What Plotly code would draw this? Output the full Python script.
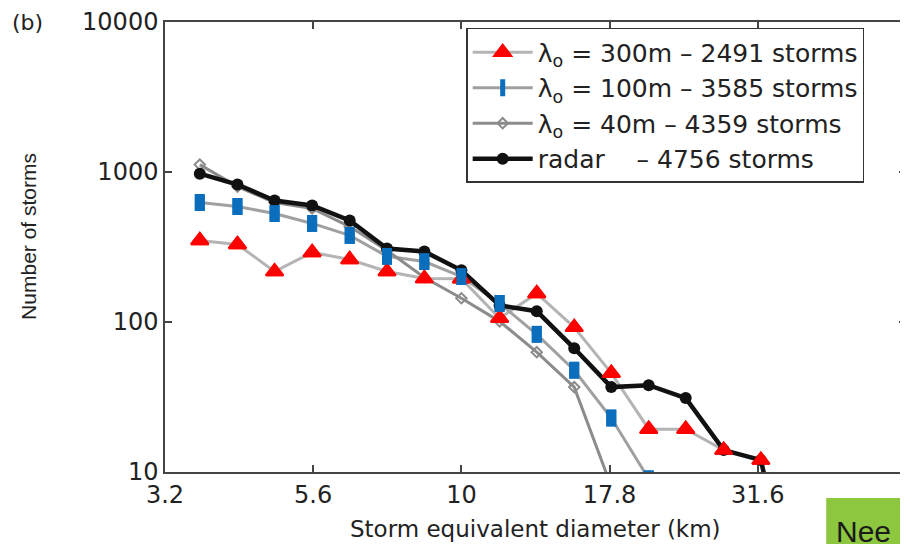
#! /usr/bin/env python3

import plotly.graph_objects as go

# storm equivalent diameter bins (km)
diam = [3.62, 4.19, 4.84, 5.60, 6.48, 7.49, 8.66, 10.0, 11.6, 13.4,
        15.5, 17.9, 20.7, 23.9, 27.7, 32.0, 37.0]

# number of storms per bin
radar = [975, 825, 645, 598, 475, 309, 295, 221, 129, 118,
         66.8, 36.8, 37.9, 31.1, 14.0, 12.0, 1]
l300 = [350, 329, 217, 291, 261, 217, 195, 194, 106, 155,
        92.2, 45.6, 19.3, 19.3, 14.0, 12.0, 1]
l100 = [626, 589, 529, 454, 378, 274, 253, 201, 133, 82.8,
        47.7, 22.9, 9]
l40 = [1120, 800, 626, 571, 433, 300, 198, 144, 101, 62.9, 36.8, 8]

names = {'l300':'λ<sub>o</sub> = 300m – 2491 storms',
         'l100':'λ<sub>o</sub> = 100m – 3585 storms',
         'l40':'λ<sub>o</sub> = 40m – 4359 storms',
         'radar':'radar\u00a0\u00a0\u00a0 – 4756 storms'}

xtickvals = [3.162, 5.623, 10, 17.78, 31.62]
xticktext = ['3.2', '5.6', '10', '17.8', '31.6']
ytickvals = [10, 100, 1000, 10000]
yticktext = ['10', '100', '1000', '10000']

RED = '#ff0000'
BLUE = '#0a6ebd'

tri = dict(symbol='triangle-up', size=15, color=RED,
           line=dict(color=RED, width=2))
bar = dict(symbol='line-ns', size=12, color=BLUE,
           line=dict(color=BLUE, width=10))
dia = dict(symbol='diamond-open', size=8, color='#8c8c8c',
           line=dict(color='#8c8c8c', width=2))
dot = dict(symbol='circle', size=12, color='#111111')

fig = go.Figure()
fig.add_trace(go.Scatter(name=names['l300'], x=diam[:len(l300)], y=l300,
                         mode='lines+markers', marker=tri,
                         line=dict(color='#b4b4b4', width=3)))
fig.add_trace(go.Scatter(name=names['l100'], x=diam[:len(l100)], y=l100,
                         mode='lines+markers', marker=bar,
                         line=dict(color='#a0a0a0', width=3)))
fig.add_trace(go.Scatter(name=names['l40'], x=diam[:len(l40)], y=l40,
                         mode='lines+markers', marker=dia,
                         line=dict(color='#8c8c8c', width=3)))
fig.add_trace(go.Scatter(name=names['radar'], x=diam[:len(radar)], y=radar,
                         mode='lines+markers', marker=dot,
                         line=dict(color='#111111', width=4.5)))
# red/blue markers sit on top of the radar line
fig.add_trace(go.Scatter(x=diam[:len(l300)], y=l300, mode='markers',
                         marker=tri, showlegend=False))
fig.add_trace(go.Scatter(x=diam[:len(l100)], y=l100, mode='markers',
                         marker=bar, showlegend=False))

axis = dict(showline=True, linecolor='#444444', linewidth=1.5,
            mirror='ticks', ticks='inside', ticklen=7, tickwidth=1.5,
            tickcolor='#444444', showgrid=False, zeroline=False,
            ticklabeloverflow='allow')
fig.update_xaxes(type='log', range=[0.5, 1.75], tickvals=xtickvals,
                 ticktext=xticktext,
                 tickfont=dict(family='DejaVu Sans', size=24, color='#222222'),
                 **axis)
fig.update_yaxes(type='log', range=[1, 4], tickvals=ytickvals,
                 ticktext=yticktext,
                 tickfont=dict(family='DejaVu Sans', size=24, color='#222222'),
                 **axis)

# positions below are given relative to the plot box (743 x 451 px)
fig.add_annotation(text='Storm equivalent diameter (km)', xref='paper',
                   yref='paper', x=(537-165)/743, y=(472-529)/451,
                   showarrow=False, xanchor='center', yanchor='middle',
                   font=dict(family='DejaVu Sans', size=23, color='#222222'))
fig.add_annotation(text='Number of storms', xref='paper', yref='paper',
                   x=(28-165)/743, y=(472-236)/451, textangle=-90,
                   showarrow=False, xanchor='center', yanchor='middle',
                   font=dict(family='Liberation Sans', size=21,
                             color='#222222'))
fig.add_annotation(text='(b)', xref='paper', yref='paper',
                   x=(27-165)/743, y=(472-21)/451, showarrow=False,
                   xanchor='center', yanchor='middle',
                   font=dict(family='DejaVu Sans', size=22, color='#222222'))

# green button stub in the bottom right corner
fig.add_shape(type='rect', xref='paper', yref='paper',
              x0=(828-165)/743, x1=1.02, y0=(472-498)/451, y1=(472-560)/451,
              fillcolor='#8dc63f', line_width=0, layer='above')
fig.add_annotation(text='Nee', xref='paper', yref='paper',
                   x=(836-165)/743, y=(472-532)/451, showarrow=False,
                   xanchor='left', yanchor='middle',
                   font=dict(family='Liberation Sans', size=30, color='#1a1a1a'))

# the page body adds 8px around the figure, so the figure is 8px smaller
fig.update_layout(width=900, height=536,
                  margin=dict(l=157, r=0, t=13, b=72),
                  plot_bgcolor='white', paper_bgcolor='white',
                  legend=dict(x=(467-165)/743, y=(472-27)/451,
                              xanchor='left', yanchor='top',
                              bgcolor='white', bordercolor='#333333',
                              borderwidth=1.5, itemwidth=60,
                              tracegroupgap=0,
                              font=dict(family='DejaVu Sans', size=25,
                                        color='#222222')))

fig.write_html('out.html')
